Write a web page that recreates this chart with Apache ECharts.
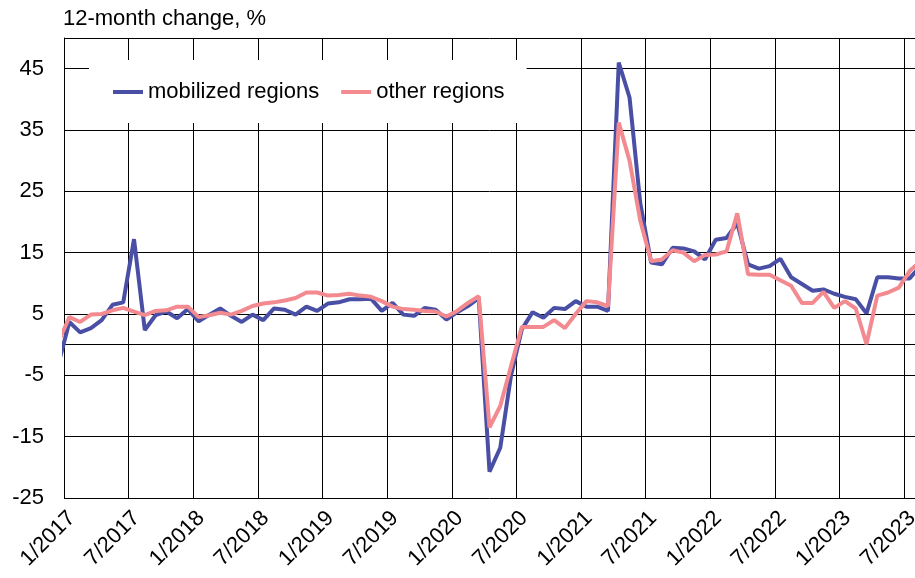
<!DOCTYPE html>
<html>
<head>
<meta charset="utf-8">
<script src="https://cdn.jsdelivr.net/npm/echarts@6/dist/echarts.min.js"></script>
<style>
  html, body { margin: 0; padding: 0; background: #fff; }
  #chart { width: 915px; height: 578px; }
</style>
</head>
<body>
<div id="chart"></div>
<script>
// months, starting with 12/2016 (only its line segment peeks in at the left border)
const months = [
  '12/2016',
  '1/2017', '2/2017', '3/2017', '4/2017', '5/2017', '6/2017', '7/2017', '8/2017', '9/2017', '10/2017', '11/2017', '12/2017',
  '1/2018', '2/2018', '3/2018', '4/2018', '5/2018', '6/2018', '7/2018', '8/2018', '9/2018', '10/2018', '11/2018', '12/2018',
  '1/2019', '2/2019', '3/2019', '4/2019', '5/2019', '6/2019', '7/2019', '8/2019', '9/2019', '10/2019', '11/2019', '12/2019',
  '1/2020', '2/2020', '3/2020', '4/2020', '5/2020', '6/2020', '7/2020', '8/2020', '9/2020', '10/2020', '11/2020', '12/2020',
  '1/2021', '2/2021', '3/2021', '4/2021', '5/2021', '6/2021', '7/2021', '8/2021', '9/2021', '10/2021', '11/2021', '12/2021',
  '1/2022', '2/2022', '3/2022', '4/2022', '5/2022', '6/2022', '7/2022', '8/2022', '9/2022', '10/2022', '11/2022', '12/2022',
  '1/2023', '2/2023', '3/2023', '4/2023', '5/2023', '6/2023', '7/2023', '8/2023',
]

const mobilized = [
  -3.0,
  3.7, 2.0, 2.7, 4.0, 6.5, 6.9, 17.2, 2.4, 4.8, 5.4, 4.3, 5.8,
  3.8, 4.9, 5.9, 4.7, 3.7, 4.9, 4.0, 5.9, 5.7, 4.9, 6.2, 5.5,
  6.7, 6.9, 7.4, 7.4, 7.5, 5.5, 6.8, 4.9, 4.7, 6.0, 5.7, 4.1,
  5.3, 6.3, 7.6, -20.7, -16.8, -5.0, 2.5, 5.3, 4.4, 6.0, 5.8, 7.1,
  6.2, 6.2, 5.5, 46.0, 40.3, 23.0, 13.4, 13.1, 15.8, 15.7, 15.2, 13.9,
  17.1, 17.4, 19.8, 13.1, 12.4, 12.8, 14.0, 11.0, 9.9, 8.8, 9.0, 8.3,
  7.8, 7.4, 5.1, 11.0, 11.0, 10.8, 10.8, 12.8,
]

const other = [
  0.5,
  4.5, 3.7, 4.9, 5.0, 5.6, 6.0, 5.4, 4.8, 5.5, 5.6, 6.2, 6.2,
  4.5, 4.8, 5.2, 4.9, 5.5, 6.3, 6.7, 6.9, 7.2, 7.6, 8.5, 8.5,
  8.0, 8.1, 8.3, 8.0, 7.8, 7.1, 6.2, 5.8, 5.7, 5.5, 5.4, 4.6,
  5.5, 6.8, 7.9, -13.5, -10.0, -3.5, 2.9, 2.9, 2.9, 4.0, 2.7, 5.0,
  7.1, 6.9, 6.3, 36.2, 30.0, 20.2, 13.6, 13.9, 15.4, 15.0, 13.6, 14.6,
  14.7, 15.2, 21.4, 11.5, 11.4, 11.4, 10.5, 9.6, 6.8, 6.8, 8.6, 6.0,
  7.1, 5.9, 0.1, 8.0, 8.5, 9.3, 12.0, 13.6,
]

const seriesNames = ['mobilized regions', 'other regions']
const colors = ['#4a4fa6', '#f28a90']

const font = '"Liberation Sans", Arial, sans-serif'
const chart = echarts.init(document.getElementById('chart'))

// each month sits in the middle of its band; x = 0 is the start of 1/2017
function toPoints(values) {
  return values.map((v, k) => [k - 0.5, v])
}

chart.setOption({
  animation: false,
  color: colors,
  title: {
    text: '12-month change, %',
    left: 58,
    top: 3,
    textStyle: { fontFamily: font, fontSize: 22, fontWeight: 'normal', color: '#000' },
  },
  legend: {
    data: seriesNames,
    left: 89,
    top: 60,
    padding: [20, 22, 19, 24],
    backgroundColor: '#fff',
    icon: 'rect',
    itemWidth: 30,
    itemHeight: 4,
    itemGap: 22,
    textStyle: { fontFamily: font, fontSize: 22, color: '#000', lineHeight: 24 },
  },
  grid: {
    left: 64,
    right: 0,
    top: 38,
    bottom: 80,
    outerBoundsMode: 'none',
  },
  xAxis: {
    type: 'value',
    min: 0,
    max: 79,
    interval: 6,
    axisLine: { show: true, lineStyle: { color: '#000', width: 1 } },
    axisTick: { show: false },
    axisLabel: {
      rotate: 45,
      margin: 9,
      verticalAlign: 'top',
      showMaxLabel: false,
      fontFamily: font,
      fontSize: 22,
      color: '#000',
      formatter: v => months[v + 1] || '',
    },
    splitLine: { show: true, lineStyle: { color: '#000', width: 1 } },
  },
  yAxis: {
    type: 'value',
    min: -25,
    max: 50,
    interval: 10,
    axisLine: { show: true, lineStyle: { color: '#000', width: 1 } },
    axisTick: { show: false },
    axisLabel: {
      margin: 20,
      showMaxLabel: false,
      fontFamily: font,
      fontSize: 22,
      color: '#000',
    },
    splitLine: { show: true, lineStyle: { color: '#000', width: 1 } },
  },
  series: [
    {
      name: seriesNames[0],
      type: 'line',
      data: toPoints(mobilized),
      symbol: 'none',
      lineStyle: { width: 4, color: colors[0] },
      z: 3,
      markLine: {
        silent: true,
        symbol: 'none',
        label: { show: false },
        lineStyle: { color: '#000', width: 1, type: 'solid' },
        data: [{ yAxis: 0 }],
        z: 1,
      },
    },
    {
      name: seriesNames[1],
      type: 'line',
      data: toPoints(other),
      symbol: 'none',
      lineStyle: { width: 4, color: colors[1] },
      z: 4,
    },
  ],
})
</script>
</body>
</html>
